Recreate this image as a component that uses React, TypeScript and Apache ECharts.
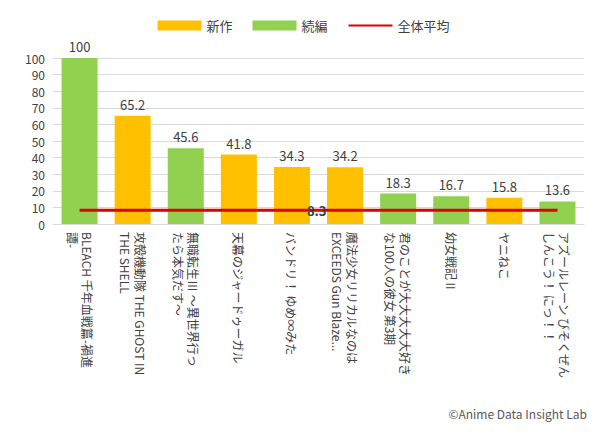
import { useEffect, useRef } from "react";
import * as echarts from "echarts";

const categories = [
  "BLEACH 千年血戦篇-禍進\n譚-",
  "攻殻機動隊 THE GHOST IN\nTHE SHELL",
  "無職転生Ⅲ ～異世界行っ\nたら本気だす～",
  "天幕のジャードゥーガル",
  "バンドリ！ ゆめ∞みた",
  "魔法少女リリカルなのは\nEXCEEDS Gun Blaze...",
  "君のことが大大大大大好き\nな100人の彼女 第3期",
  "幼女戦記Ⅱ",
  "ヤニねこ",
  "アズールレーン びそくぜん\nしんこう！ にっ！！",
];
const values = [100, 65.2, 45.6, 41.8, 34.3, 34.2, 18.3, 16.7, 15.8, 13.6];
const isSequel = [true, false, true, false, false, false, true, true, false, true];
const average = 8.3;

const font = "'Noto Sans CJK JP', 'Noto Sans', sans-serif";

const App = () => {
  const chartRef = useRef(null);

  useEffect(() => {
    if (!chartRef.current) return;
    const chart = echarts.init(chartRef.current, null, { renderer: "svg" });
    const labelStyle = { show: true, position: "top", color: "#404040", fontSize: 13, fontFamily: font };
    chart.setOption({
      animation: false,
      textStyle: { fontFamily: font },
      legend: {
        top: 6,
        left: "center",
        itemWidth: 44,
        itemHeight: 10,
        itemGap: 20,
        textStyle: { fontSize: 13, color: "#404040" },
        data: [
          { name: "新作", icon: "rect" },
          { name: "続編", icon: "rect" },
          { name: "全体平均", itemStyle: { color: "transparent", opacity: 0 } },
        ],
      },
      grid: { left: 45, right: 15, top: 50, bottom: 205 },
      xAxis: {
        type: "category",
        data: categories,
        axisTick: { show: false },
        axisLine: { lineStyle: { color: "#d9d9d9" } },
        axisLabel: {
          interval: 0,
          rotate: -90,
          color: "#404040",
          fontSize: 12,
          lineHeight: 15,
          fontFamily: font,
        },
      },
      yAxis: {
        type: "value",
        min: 0,
        max: 100,
        interval: 10,
        axisLabel: { color: "#404040", fontSize: 12 },
        splitLine: { lineStyle: { color: "#d9d9d9" } },
      },
      series: [
        {
          name: "新作",
          type: "bar",
          stack: "s",
          barWidth: 36,
          itemStyle: { color: "#FFC000" },
          label: labelStyle,
          data: values.map((v, i) => (isSequel[i] ? null : v)),
        },
        {
          name: "続編",
          type: "bar",
          stack: "s",
          barWidth: 36,
          itemStyle: { color: "#92D050" },
          label: labelStyle,
          data: values.map((v, i) => (isSequel[i] ? v : null)),
        },
        {
          name: "全体平均",
          type: "line",
          symbol: "circle",
          symbolSize: 0,
          showSymbol: true,
          z: 5,
          lineStyle: { color: "#E00000", width: 3 },
          itemStyle: { color: "#E00000" },
          data: values.map((_, i) =>
            i === 4
              ? {
                  value: average,
                  label: {
                    show: true,
                    position: "right",
                    distance: 15,
                    fontWeight: "bold",
                    color: "#404040",
                    fontSize: 13,
                  },
                }
              : average
          ),
        },
      ],
      graphic: [
        {
          type: "text",
          right: 12,
          bottom: 10,
          style: { text: "©Anime Data Insight Lab", fontSize: 12, fill: "#595959", fontFamily: font },
        },
      ],
    });
    return () => chart.dispose();
  }, []);

  return <div ref={chartRef} style={{ width: 591, height: 421 }} />;
};

export default App;
